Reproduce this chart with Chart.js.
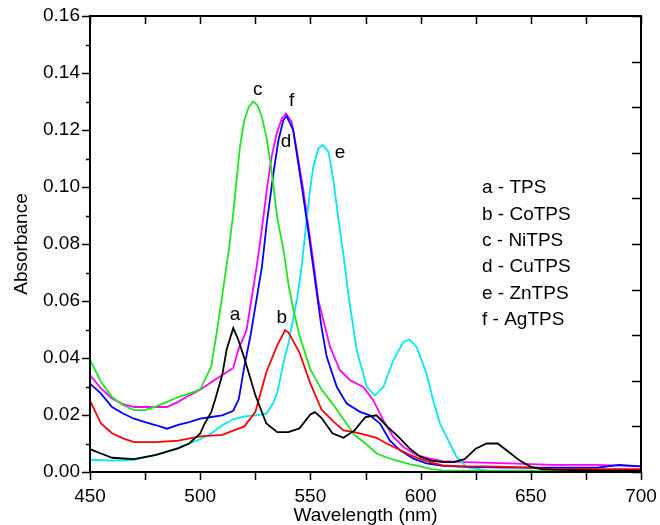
<!DOCTYPE html>
<html>
<head>
<meta charset="utf-8">
<script src="https://cdn.jsdelivr.net/npm/chart.js@4"></script>
<style>
  html, body { margin: 0; padding: 0; background: #fff; }
  #wrap { width: 660px; height: 525px; }
</style>
</head>
<body>
<div id="wrap"><canvas id="spectra" width="660" height="525"></canvas></div>
<script>
// absorbance spectra, one pair of arrays per compound
const tpsWl  = [450,455,460,470,480,490,495,500,502,505,507,510,512,515,517,520,525,530,535,540,545,550,552,555,560,565,570,575,580,585,590,595,600,605,610,615,620,625,630,635,640,645,650,655,660,680,700];
const tpsAbs = [0.008,0.0065,0.005,0.0045,0.006,0.0083,0.010,0.0135,0.017,0.021,0.026,0.034,0.043,0.0505,0.047,0.040,0.027,0.017,0.014,0.014,0.0153,0.0202,0.021,0.019,0.0136,0.012,0.0146,0.0193,0.0199,0.0158,0.0123,0.0083,0.0053,0.004,0.0035,0.0035,0.0045,0.0082,0.010,0.010,0.007,0.004,0.0018,0.001,0.0008,0.0005,0.0005];

const coWl  = [450,455,460,465,470,480,490,500,510,515,520,525,530,535,538.5,540,545,550,555,560,565,570,575,580,585,590,595,600,605,610,620,630,640,650,660,680,700];
const coAbs = [0.025,0.017,0.0136,0.0118,0.0105,0.0105,0.011,0.0125,0.013,0.0145,0.016,0.021,0.035,0.0445,0.0497,0.049,0.042,0.031,0.022,0.018,0.0146,0.014,0.013,0.012,0.0098,0.008,0.006,0.0045,0.0033,0.0023,0.002,0.002,0.0018,0.0015,0.001,0.001,0.001];

const niWl  = [450,455,460,465,470,475,480,485,490,495,500,505,507.5,510,513,515,518,520,522,524,526,528,530,532,535,538,540,542,545,550,555,560,565,570,575,580,585,590,595,600,605,610,620,640,660,680,700];
const niAbs = [0.0394,0.0316,0.0263,0.0234,0.0217,0.0217,0.023,0.0246,0.0263,0.0275,0.029,0.037,0.049,0.062,0.078,0.0908,0.114,0.1234,0.128,0.130,0.1287,0.1246,0.1176,0.108,0.089,0.077,0.066,0.058,0.048,0.036,0.029,0.024,0.0185,0.013,0.010,0.0065,0.005,0.0038,0.0028,0.002,0.001,0.0006,0.0005,0.0005,0.0005,0.0005,0.0005];

const cuWl  = [450,455,460,465,470,475,480,485,490,495,500,505,510,515,517.5,520,523,525.5,528,530.2,533.2,535.5,537.7,539.2,542.2,544.5,546.8,549,552.1,555,557.4,562,566.5,572.5,577,581.6,586,590.7,596.7,602.7,610,620,640,660,680,690,700];
const cuAbs = [0.031,0.0275,0.0228,0.0205,0.0187,0.0175,0.0164,0.0152,0.0165,0.0175,0.0187,0.0193,0.0199,0.0215,0.0255,0.037,0.0486,0.0603,0.072,0.0872,0.1047,0.1164,0.1234,0.1249,0.120,0.1083,0.0965,0.0848,0.0673,0.051,0.0404,0.0298,0.024,0.0211,0.0199,0.017,0.0111,0.0076,0.0047,0.003,0.0022,0.0018,0.0015,0.0015,0.0015,0.0025,0.002];

const znWl  = [450,460,470,480,490,500,505,510,515,520,525,530,533,535,538,540,542,544,546,548.3,549.8,551.3,553.6,555.6,558.2,560.4,562.8,565.1,567.4,571,575.6,579.3,583.1,587.6,592.2,594.9,598.2,602.7,605.7,608.8,612,616.3,620.8,630,650,700];
const znAbs = [0.0043,0.004,0.0043,0.006,0.0085,0.0115,0.0135,0.0164,0.0185,0.0195,0.0199,0.0205,0.024,0.028,0.039,0.045,0.053,0.061,0.072,0.0883,0.0989,0.107,0.1135,0.1147,0.1123,0.1024,0.0883,0.0755,0.0614,0.0427,0.0298,0.0269,0.0298,0.0392,0.0456,0.0465,0.0439,0.0345,0.0252,0.017,0.012,0.0053,0.0018,0.0005,0.0004,0.0004];

const agWl  = [450,455,460,465,470,480,485,490,495,500,505,510,515,517.2,521,523.4,525.6,527.9,530.2,532.4,534.7,537,538.9,541.5,543.8,546.8,549.1,552.1,553.6,558.9,563.4,568,574,578.5,583.1,587.6,592.2,598.2,604.3,610,620,640,660,680,700];
const agAbs = [0.034,0.0293,0.0258,0.0238,0.0228,0.0228,0.0228,0.0246,0.0269,0.0289,0.0315,0.034,0.0365,0.0427,0.0497,0.0614,0.072,0.0848,0.0989,0.1106,0.1188,0.124,0.1258,0.1229,0.1129,0.0989,0.086,0.0696,0.0603,0.0439,0.0357,0.0322,0.0298,0.0252,0.0181,0.0123,0.0088,0.0059,0.0047,0.0038,0.0035,0.003,0.0025,0.0025,0.002];

const seriesNames = ['TPS', 'CoTPS', 'NiTPS', 'CuTPS', 'ZnTPS', 'AgTPS'];
const seriesTags  = ['a', 'b', 'c', 'd', 'e', 'f'];
const xTickLabels = [450, 500, 550, 600, 650, 700];
const yTickLabels = ['0.00', '0.02', '0.04', '0.06', '0.08', '0.10', '0.12', '0.14', '0.16'];

const FONT = 'Liberation Sans, Arial, Helvetica, sans-serif';
const colors = ['#000000', '#ff0000', '#1ee61e', '#0000ff', '#00e8f0', '#ff00ff'];
const wls  = [tpsWl, coWl, niWl, cuWl, znWl, agWl];
const abss = [tpsAbs, coAbs, niAbs, cuAbs, znAbs, agAbs];

const pts = (xs, ys) => xs.map((v, i) => ({ x: v, y: ys[i] }));

// where the letters sit next to each peak (data units)
const tagSpots = {
    a: [515.8, 0.055], b: [537, 0.054], c: [526.1, 0.134],
    d: [538.9, 0.1158], e: [563.4, 0.112], f: [541.5, 0.1304]
};

// stop chart.js from adding room for overhanging tick labels
const noPad = s => { s.paddingLeft = 0; s.paddingRight = 0; s.paddingTop = 0; s.paddingBottom = 0; };

const frame = {
    id: 'frame',
    afterDraw(chart) {
        const { ctx, chartArea: a, scales: { x, y, y2 } } = chart;
        ctx.save();
        ctx.strokeStyle = '#000';
        ctx.lineWidth = 1.5;
        ctx.beginPath();
        x.ticks.forEach(t => {
            const px = Math.round(x.getPixelForValue(t.value)) + 0.5;
            ctx.moveTo(px, a.bottom); ctx.lineTo(px, a.bottom + 8);
            ctx.moveTo(px, a.top); ctx.lineTo(px, a.top + 8);
        });
        y.ticks.forEach(t => {
            const py = Math.round(y.getPixelForValue(t.value)) + 0.5;
            const len = t.label ? 8 : 4;
            ctx.moveTo(a.left - len, py); ctx.lineTo(a.left, py);
        });
        y2.ticks.forEach(t => {
            const py = Math.round(y2.getPixelForValue(t.value)) + 0.5;
            ctx.moveTo(a.right - 9, py); ctx.lineTo(a.right, py);
        });
        ctx.stroke();
        ctx.lineWidth = 2;
        ctx.strokeRect(a.left, a.top, a.right - a.left, a.bottom - a.top);

        ctx.fillStyle = '#000';
        ctx.font = '19px ' + FONT;
        ctx.textAlign = 'center';
        ctx.textBaseline = 'middle';
        seriesTags.forEach(tag => {
            const [wl, ab] = tagSpots[tag];
            ctx.fillText(tag, x.getPixelForValue(wl), y.getPixelForValue(ab));
        });

        ctx.textAlign = 'left';
        seriesTags.forEach((tag, i) => {
            ctx.fillText(tag + ' - ' + seriesNames[i], a.left + 392, a.top + 172 + i * 26.4);
        });
        ctx.restore();
    }
};

new Chart(document.getElementById('spectra'), {
    type: 'line',
    data: {
        datasets: seriesNames.map((name, i) => ({
            label: name,
            data: pts(wls[i], abss[i]),
            borderColor: colors[i],
            borderWidth: 1.8,
            pointRadius: 0,
            tension: 0,
            fill: false
        }))
    },
    options: {
        responsive: false,
        animation: false,
        layout: { padding: { top: 16, left: 0, right: 0, bottom: 0 } },
        plugins: { legend: { display: false }, tooltip: { enabled: false } },
        scales: {
            x: {
                type: 'linear', position: 'bottom', min: 450, max: 700,
                grid: { display: false, drawTicks: false },
                border: { display: false },
                ticks: {
                    stepSize: 25, autoSkip: false, maxRotation: 0, padding: 13,
                    color: '#000', font: { size: 19, family: FONT },
                    callback: v => xTickLabels.includes(v) ? String(v) : ''
                },
                title: {
                    display: true, text: 'Wavelength (nm)', color: '#000',
                    font: { size: 19, family: FONT, lineHeight: 1 }, padding: { top: 0, bottom: 0 }
                },
                afterFit: s => { s.height = 53; noPad(s); }
            },
            y: {
                position: 'left', min: 0, max: 0.16,
                grid: { display: false, drawTicks: false },
                border: { display: false },
                ticks: {
                    stepSize: 0.01, autoSkip: false, padding: 10,
                    color: '#000', font: { size: 19, family: FONT },
                    callback: v => {
                        const s = v.toFixed(2);
                        return yTickLabels.includes(s) ? s : '';
                    }
                },
                title: {
                    display: true, text: 'Absorbance', color: '#000',
                    font: { size: 19, family: FONT }, padding: { top: 10, bottom: 0 }
                },
                afterFit: s => { s.width = 90; noPad(s); }
            },
            y2: {
                position: 'right', min: 0, max: 0.16,
                grid: { display: false, drawTicks: false },
                border: { display: false },
                ticks: { stepSize: 0.016, display: false },
                afterFit: s => { s.width = 19; noPad(s); }
            }
        }
    },
    plugins: [frame]
});
</script>
</body>
</html>
